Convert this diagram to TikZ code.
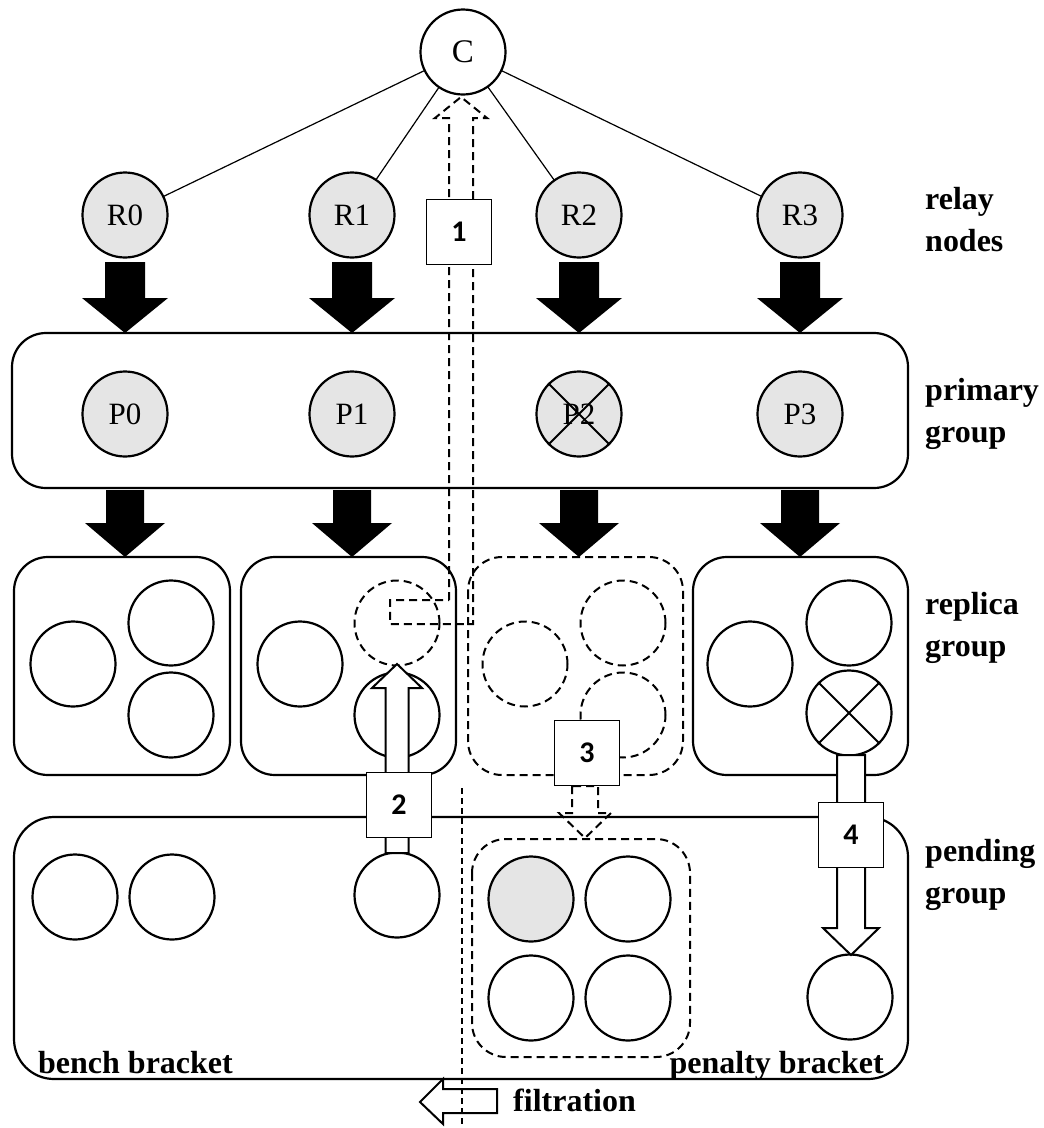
\documentclass[tikz,border=0pt]{standalone}
\usepackage{fontspec}
\setmainfont{Liberation Serif}
\newfontfamily\numfont{Carlito}
\usetikzlibrary{calc}

% vertical block arrow: style, x, tail y, head-base y, tip y, shaft half width, head half width
\newcommand\vblock[7]{%
  \draw[#1] ({#2-#6},#3) -- ({#2-#6},#4) -- ({#2-#7},#4) -- (#2,#5) --
            ({#2+#7},#4) -- ({#2+#6},#4) -- ({#2+#6},#3) -- cycle;}

\begin{document}
\begin{tikzpicture}[x=1pt,y=-1pt,
  every node/.style={inner sep=0pt},
  unit/.style={circle,draw,fill=white,line width=2.2pt,minimum size=85pt,
               font=\fontsize{31}{31}\selectfont},
  busy/.style={unit,fill=black!10},
  dsh/.style={line width=2pt,dash pattern=on 8pt off 5pt},
  gone/.style={unit,dsh,line width=2pt},
  group/.style={draw,line width=2.2pt,rounded corners=34pt},
  dgroup/.style={draw,dsh,line width=2pt,rounded corners=34pt},
  solid arrow/.style={fill=black,draw=none},
  hollow/.style={draw,fill=white,line width=2pt},
  stepbox/.style={draw,fill=white,line width=1.8pt,minimum size=65pt,
                  font=\numfont\bfseries\fontsize{30}{30}\selectfont},
  lbl/.style={anchor=west,align=left,font=\bfseries\fontsize{32}{42}\selectfont},
  tag/.style={font=\bfseries\fontsize{32}{32}\selectfont},
  link/.style={line width=1.2pt},
  xmark/.style={line width=1.8pt}
]
\useasboundingbox (0,0) rectangle (1044,1128);

% coordinator and relay nodes
\coordinate (cc) at (463,52);
\coordinate (q0) at (125,215);
\coordinate (q1) at (352,215);
\coordinate (q2) at (579,215);
\coordinate (q3) at (800,215);
\draw[link] (cc) -- (q0) (cc) -- (q1) (cc) -- (q2) (cc) -- (q3);
\node[unit,font=\fontsize{33}{33}\selectfont] (c) at (cc) {C};
\node[busy] (r0) at (q0) {R0};
\node[busy] (r1) at (q1) {R1};
\node[busy] (r2) at (q2) {R2};
\node[busy] (r3) at (q3) {R3};

% groups
\draw[group] (12,333) rectangle (908,488);
\draw[group] (14,557) rectangle (230,775);
\draw[group] (241,557) rectangle (456,775);
\draw[dgroup] (468,557) rectangle (683,775);
\draw[group] (693,557) rectangle (908,775);
\draw[group,rounded corners=40pt] (14,817) rectangle (908,1079);
\draw[dgroup] (472,839) rectangle (690,1057);

% primary group
\node[busy] (p0) at (125,414) {P0};
\node[busy] (p1) at (352,414) {P1};
\node[busy] (p2) at (579,414) {P2};
\node[busy] (p3) at (800,414) {P3};
\draw[xmark] (p2.north east) -- (p2.south west) (p2.north west) -- (p2.south east);

% black flow arrows
\foreach \x in {125,352,579,800}{
  \vblock{solid arrow}{\x}{262}{298}{333}{20}{43}
  \vblock{solid arrow}{\x}{490}{523}{557}{19}{40}
}

% replica groups
\node[unit] (a0) at (73,664) {};
\node[unit] (a1) at (171,623) {};
\node[unit] (a2) at (171,715) {};
\node[unit] (b0) at (300,664) {};
\node[gone] (b1) at (397,623) {};
\node[unit] (b2) at (397,715) {};
\node[gone] (c0) at (525,664) {};
\node[gone] (c1) at (623,623) {};
\node[gone] (c2) at (623,715) {};
\node[unit] (d0) at (750,664) {};
\node[unit] (d1) at (849,623) {};
\node[unit] (d2) at (849,713) {};
\draw[xmark] (d2.north east) -- (d2.south west) (d2.north west) -- (d2.south east);

% pending group
\node[unit] (e0) at (75,897) {};
\node[unit] (e1) at (172,897) {};
\node[unit] (e2) at (397,895) {};
\node[busy] (f0) at (531,899) {};
\node[unit] (f1) at (628,899) {};
\node[unit] (f2) at (531,998) {};
\node[unit] (f3) at (628,998) {};
\node[unit] (e3) at (850,997) {};

% step 1: report back to the coordinator
\draw[dsh] (449,600) -- (449,118) -- (435,118) -- (461,97) -- (487,118) --
  (473,118) -- (473,624) -- (390,624) -- (390,600) -- cycle;
% step 2: promote from pending
\vblock{hollow}{397}{853}{688}{664}{11.5}{25}
% step 3: dissolved group to penalty bracket
\vblock{dsh}{585}{786}{813}{838}{13}{26}
% step 4: failed replica to pending
\vblock{hollow}{851}{755}{928}{955}{14}{28}

\node[stepbox] (s1) at (459,232) {1};
\node[stepbox] (s2) at (399,805) {2};
\node[stepbox] (s3) at (587,753) {3};
\node[stepbox] (s4) at (851,835) {4};

% filtration
\draw[hollow] (420,1102) -- (443,1079) -- (443,1089) -- (497,1089) --
  (497,1113) -- (443,1113) -- (443,1124) -- cycle;
\draw[line width=1.2pt,dash pattern=on 6pt off 4pt] (462,788) -- (462,1128);
\node[tag,anchor=west] (ft) at (513,1100) {filtration};

% labels
\node[lbl] (l1) at (925,220) {relay\\nodes};
\node[lbl] (l2) at (925,414) {primary\\group};
\node[lbl] (l3) at (925,628) {replica\\group};
\node[lbl] (l4) at (925,875) {pending\\group};
\node[tag,anchor=base west] (bb) at (38,1073) {bench bracket};
\node[tag,anchor=base east] (pb) at (884,1073) {penalty bracket};
\end{tikzpicture}
\end{document}
